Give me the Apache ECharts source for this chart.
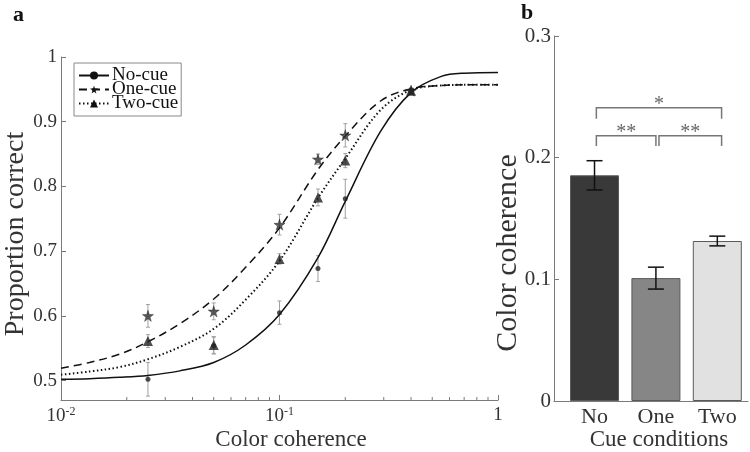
<!DOCTYPE html>
<html><head><meta charset="utf-8">
<script src="https://cdn.jsdelivr.net/npm/echarts@6/dist/echarts.min.js"></script>
<style>html,body{margin:0;padding:0;background:#fff}#c{width:750px;height:452px}</style>
</head><body><div id="c"></div>
<script>
// ---- Panel a: data points ----
const coherence = [0.025, 0.05, 0.1, 0.15, 0.2, 0.4];
const noCue     = [0.502, 0.554, 0.605, 0.673, 0.781, 0.946];
const noCueErr  = [0.026, 0.013, 0.018, 0.020, 0.030, 0.004];
const oneCue    = [0.600, 0.607, 0.741, 0.842, 0.879, 0.948];
const oneCueErr = [0.0175, 0.013, 0.016, 0.008, 0.018, 0.004];
const twoCue    = [0.561, 0.555, 0.688, 0.783, 0.840, 0.948];
const twoCueErr = [0.010, 0.013, 0.008, 0.013, 0.011, 0.004];
// ---- Panel a: fitted curves ----
const curveX    = [0.01, 0.0135, 0.0186, 0.025, 0.035, 0.05, 0.07, 0.1, 0.15, 0.2, 0.29, 0.4, 0.55, 0.7, 1];
const noCueFit  = [0.502, 0.503, 0.505, 0.508, 0.515, 0.528, 0.555, 0.602, 0.690, 0.777, 0.885, 0.945, 0.970, 0.975, 0.976];
const oneCueFit = [0.519, 0.528, 0.541, 0.560, 0.588, 0.626, 0.675, 0.736, 0.826, 0.878, 0.932, 0.951, 0.956, 0.957, 0.957];
const twoCueFit = [0.509, 0.514, 0.521, 0.533, 0.552, 0.580, 0.625, 0.685, 0.782, 0.843, 0.918, 0.949, 0.956, 0.957, 0.957];
const yTicksA = [0.5, 0.6, 0.7, 0.8, 0.9, 1];
const xMinorTicksA = [0.02,0.03,0.04,0.05,0.06,0.07,0.08,0.09,0.2,0.3,0.4,0.5,0.6,0.7,0.8,0.9];
// ---- Panel b ----
const conditions = ['No', 'One', 'Two'];
const threshold = [0.1855, 0.101, 0.1315];
const thresholdErr = [0.012, 0.009, 0.004];
const sigLabels = ['*', '**', '**'];
const sigFrom = [1.03, 1.03, 2.05];
const sigTo = [3.07, 2.0, 3.07];
const sigLevel = [0.241, 0.218, 0.218];
const sigLeg = [0.232, 0.2095, 0.2095];

const FONT = 'Liberation Serif';
const AX = '#7a7a7a';
const STAR = 'path://M50,0 L61,35 L98,35 L68,57 L79,91 L50,70 L21,91 L32,57 L2,35 L39,35 Z';

function zip(xs, ys) { return xs.map((x, i) => [x, ys[i]]); }
function zip3(xs, ys, es) { return xs.map((x, i) => [x, ys[i], es[i]]); }

function errRender(capHalf, color, lw) {
  return function (params, api) {
    const x = api.value(0), y = api.value(1), e = api.value(2);
    const t = api.coord([x, y + e]), b = api.coord([x, y - e]);
    const st = { stroke: color, lineWidth: lw };
    return { type: 'group', children: [
      { type: 'line', shape: { x1: t[0], y1: t[1], x2: b[0], y2: b[1] }, style: st },
      { type: 'line', shape: { x1: t[0] - capHalf, y1: t[1], x2: t[0] + capHalf, y2: t[1] }, style: st },
      { type: 'line', shape: { x1: b[0] - capHalf, y1: b[1], x2: b[0] + capHalf, y2: b[1] }, style: st }
    ]};
  };
}

const chart = echarts.init(document.getElementById('c'));
const lineCol = '#111';

const option = {
  animation: false,
  backgroundColor: '#fff',
  textStyle: { fontFamily: FONT },
  grid: [
    { left: 61, top: 57, width: 437, height: 343 },
    { left: 554, top: 36, width: 194, height: 365 }
  ],
  legend: {
    data: ['No-cue', 'One-cue', 'Two-cue'],
    orient: 'vertical', left: 74, top: 63,
    padding: [3, 3, 3, 4], itemGap: -5, itemWidth: 30, itemHeight: 10,
    borderColor: '#888', borderWidth: 1, backgroundColor: '#fff',
    textStyle: { fontFamily: FONT, fontSize: 19, color: '#111', padding: [0, 0, 0, -2] },
    selectedMode: false
  },
  xAxis: [
    { type: 'log', gridIndex: 0, min: 0.01, max: 1, logBase: 10,
      axisLine: { onZero: false, lineStyle: { color: AX } },
      axisTick: { inside: true, length: 5, lineStyle: { color: AX } },
      splitLine: { show: false },
      axisLabel: { color: '#333', fontSize: 19, fontFamily: FONT, margin: 6,
        formatter: v => v >= 1 ? '1' : (v > 0.05 ? '10{s|-1}' : '10{s|-2}'),
        rich: { s: { fontSize: 12, fontFamily: FONT, color: '#333', verticalAlign: 'top', padding: [0, 0, 8, 0] } } } },
    { type: 'value', gridIndex: 1, min: 0.34, max: 3.5,
      axisLine: { onZero: false, lineStyle: { color: AX } },
      axisTick: { show: false },
      splitLine: { show: false },
      axisLabel: { customValues: [1, 2, 3], formatter: v => conditions[Math.round(v) - 1],
        color: '#333', fontSize: 22, fontFamily: FONT, margin: 5 } }
  ],
  yAxis: [
    { type: 'value', gridIndex: 0, min: 0.47, max: 1,
      axisLine: { show: true, onZero: false, lineStyle: { color: AX } },
      axisTick: { show: true, inside: true, length: 5, lineStyle: { color: AX }, customValues: yTicksA },
      splitLine: { show: false },
      axisLabel: { customValues: yTicksA, formatter: v => String(Math.round(v * 10) / 10),
        color: '#333', fontSize: 19, fontFamily: FONT, margin: 4 } },
    { type: 'value', gridIndex: 1, min: 0, max: 0.3, interval: 0.1,
      axisLine: { show: true, onZero: false, lineStyle: { color: AX } },
      axisTick: { show: true, inside: true, length: 5, lineStyle: { color: AX } },
      splitLine: { show: false },
      axisLabel: { formatter: v => String(Math.round(v * 10) / 10),
        color: '#333', fontSize: 21, fontFamily: FONT, margin: 3 } }
  ],
  series: [
    // minor log ticks on the bottom axis of panel a
    { type: 'custom', xAxisIndex: 0, yAxisIndex: 0, silent: true, data: xMinorTicksA.map(v => [v]),
      renderItem: function (params, api) {
        const p = api.coord([api.value(0), 0.5]);
        const yb = params.coordSys.y + params.coordSys.height;
        return { type: 'line', shape: { x1: p[0], y1: yb, x2: p[0], y2: yb - 3 }, style: { stroke: AX, lineWidth: 1 } };
      }, z: 1 },
    { name: 'No-cue', type: 'line', xAxisIndex: 0, yAxisIndex: 0, data: zip(curveX, noCueFit),
      smooth: 0.35, showSymbol: false, symbol: 'circle', color: lineCol,
      lineStyle: { color: lineCol, width: 1.5, type: 'solid' }, z: 3 },
    { name: 'One-cue', type: 'line', xAxisIndex: 0, yAxisIndex: 0, data: zip(curveX, oneCueFit),
      smooth: 0.35, showSymbol: false, symbol: STAR, color: lineCol,
      lineStyle: { color: lineCol, width: 1.5, type: [8, 5] }, z: 3 },
    { name: 'Two-cue', type: 'line', xAxisIndex: 0, yAxisIndex: 0, data: zip(curveX, twoCueFit),
      smooth: 0.35, showSymbol: false, symbol: 'triangle', color: lineCol,
      lineStyle: { color: lineCol, width: 2, type: [1.5, 2.5] }, z: 3 },
    { type: 'custom', xAxisIndex: 0, yAxisIndex: 0, renderItem: errRender(2, '#a0a0a0', 1), data: zip3(coherence, noCue, noCueErr), z: 2 },
    { type: 'custom', xAxisIndex: 0, yAxisIndex: 0, renderItem: errRender(2, '#a0a0a0', 1), data: zip3(coherence, oneCue, oneCueErr), z: 2 },
    { type: 'custom', xAxisIndex: 0, yAxisIndex: 0, renderItem: errRender(2, '#a0a0a0', 1), data: zip3(coherence, twoCue, twoCueErr), z: 2 },
    { type: 'scatter', xAxisIndex: 0, yAxisIndex: 0, data: zip(coherence, noCue), symbol: 'circle', symbolSize: 5,
      itemStyle: { color: '#222' }, z: 4 },
    { type: 'scatter', xAxisIndex: 0, yAxisIndex: 0, data: zip(coherence, oneCue), symbol: STAR, symbolSize: 11,
      itemStyle: { color: '#333', borderColor: '#111', borderWidth: 0.5 }, z: 4 },
    { type: 'scatter', xAxisIndex: 0, yAxisIndex: 0, data: zip(coherence, twoCue), symbol: 'triangle', symbolSize: 10,
      itemStyle: { color: '#222' }, z: 4 },
    // Panel b
    { type: 'bar', xAxisIndex: 1, yAxisIndex: 1, barWidth: 49,
      data: threshold.map((v, i) => ({ value: [i + 1, v],
        itemStyle: { color: ['#393939', '#868686', '#e1e1e1'][i], borderColor: '#5a5a5a', borderWidth: 1 } })) },
    { type: 'custom', xAxisIndex: 1, yAxisIndex: 1, renderItem: errRender(8, '#111', 1.5),
      data: zip3([1, 2, 3], threshold, thresholdErr), z: 5 },
    { type: 'custom', xAxisIndex: 1, yAxisIndex: 1,
      data: sigLabels.map((s, i) => [sigFrom[i], sigTo[i], sigLevel[i], sigLeg[i]]),
      renderItem: function (params, api) {
        const a = api.coord([api.value(0), api.value(2)]);
        const b = api.coord([api.value(1), api.value(2)]);
        const la = api.coord([api.value(0), api.value(3)]);
        return { type: 'group', children: [
          { type: 'polyline', shape: { points: [[la[0], la[1]], [a[0], a[1]], [b[0], b[1]], [b[0], la[1]]] }, style: { stroke: '#777', lineWidth: 1.5, fill: null } },
          { type: 'text', x: (a[0] + b[0]) / 2, y: a[1] + 7,
            style: { text: sigLabels[params.dataIndex], fill: '#666', font: '20px ' + FONT, align: 'center', verticalAlign: 'bottom' } }
        ]};
      }, z: 5 }
  ],
  graphic: [
    { type: 'text', left: 13, top: 4, style: { text: 'a', font: 'bold 22px ' + FONT, fill: '#111' } },
    { type: 'text', left: 521, top: 2, style: { text: 'b', font: 'bold 22px ' + FONT, fill: '#111' } },
    { type: 'text', x: 16, y: 234, rotation: Math.PI / 2,
      style: { text: 'Proportion correct', font: '28px ' + FONT, fill: '#333', align: 'center', verticalAlign: 'middle' } },
    { type: 'text', x: 291, y: 440,
      style: { text: 'Color coherence', font: '23px ' + FONT, fill: '#333', align: 'center', verticalAlign: 'middle' } },
    { type: 'text', x: 508, y: 253, rotation: Math.PI / 2,
      style: { text: 'Color coherence', font: '30px ' + FONT, fill: '#333', align: 'center', verticalAlign: 'middle' } },
    { type: 'text', x: 659, y: 440,
      style: { text: 'Cue conditions', font: '23px ' + FONT, fill: '#333', align: 'center', verticalAlign: 'middle' } }
  ]
};
chart.setOption(option);
</script>
</body></html>
